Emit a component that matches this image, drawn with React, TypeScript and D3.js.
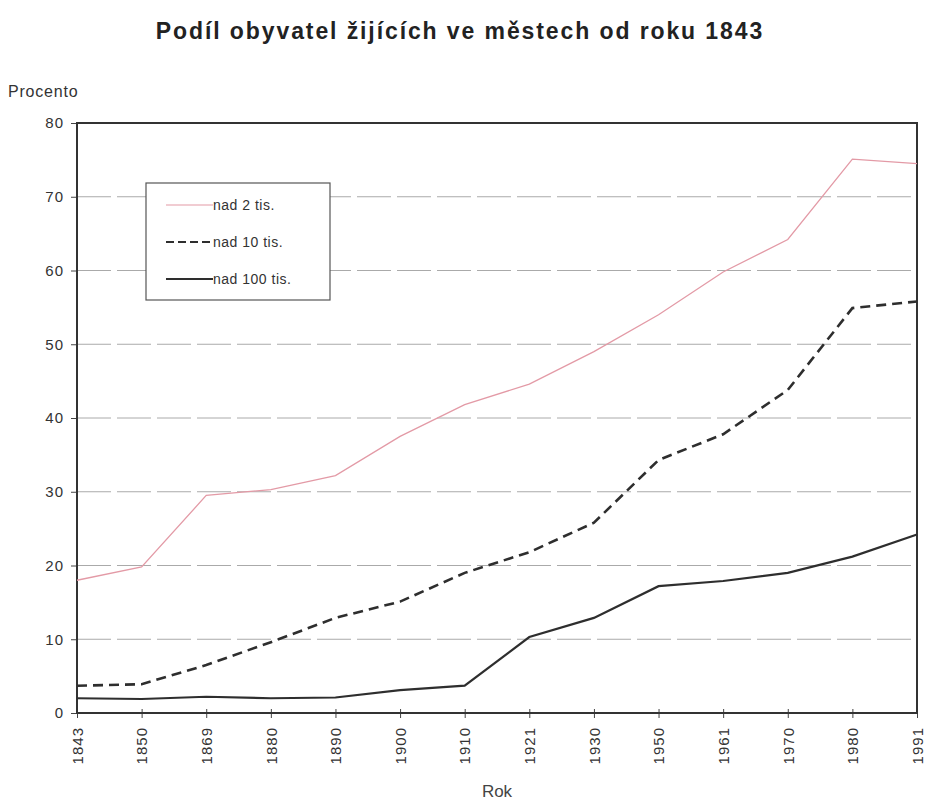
import { useEffect, useRef } from 'react';
import * as d3 from 'd3';

const years = ['1843', '1850', '1869', '1880', '1890', '1900', '1910', '1921', '1930', '1950', '1961', '1970', '1980', '1991'];
const over2k = [18.0, 19.8, 29.5, 30.3, 32.2, 37.5, 41.8, 44.6, 49.0, 54.0, 59.8, 64.2, 75.1, 74.5];
const over10k = [3.7, 3.9, 6.5, 9.6, 12.9, 15.1, 19.0, 21.8, 25.8, 34.3, 37.8, 43.8, 54.9, 55.8];
const over100k = [2.0, 1.9, 2.2, 2.0, 2.1, 3.1, 3.7, 10.3, 12.9, 17.2, 17.9, 19.0, 21.2, 24.2];
const yTicks = [0, 10, 20, 30, 40, 50, 60, 70, 80];

const seriesNames = ['nad 2 tis.', 'nad 10 tis.', 'nad 100 tis.'];

const App = () => {
  const ref = useRef<SVGSVGElement>(null);

  useEffect(() => {
    const width = 925;
    const height = 802;
    const margin = { top: 123, right: 8, bottom: 89, left: 77 };
    const font = '"Liberation Sans", Arial, sans-serif';

    const svg = d3.select(ref.current);
    svg.selectAll('*').remove();

    const x = d3.scalePoint<string>()
      .domain(years)
      .range([margin.left, width - margin.right]);

    const y = d3.scaleLinear()
      .domain([0, 80])
      .range([height - margin.bottom, margin.top]);

    // title
    svg.append('text')
      .attr('x', 460)
      .attr('y', 39)
      .attr('text-anchor', 'middle')
      .style('font-family', font)
      .style('font-weight', 'bold')
      .style('font-size', '23px')
      .style('letter-spacing', '1.9px')
      .attr('fill', '#222')
      .text('Podíl obyvatel žijících ve městech od roku 1843');

    svg.append('text')
      .attr('x', 8)
      .attr('y', 97)
      .style('font-family', font)
      .style('font-size', '16px')
      .style('letter-spacing', '0.8px')
      .attr('fill', '#333')
      .text('Procento');

    // grid lines
    svg.append('g')
      .selectAll('line')
      .data(yTicks.filter(d => d > 0 && d < 80))
      .enter().append('line')
      .attr('x1', margin.left)
      .attr('x2', width - margin.right)
      .attr('y1', d => y(d))
      .attr('y2', d => y(d))
      .attr('stroke', '#aaaaaa')
      .attr('stroke-width', 1)
      .attr('stroke-dasharray', '34,6');

    // y axis
    const yAxis = svg.append('g')
      .attr('transform', `translate(${margin.left},0)`)
      .call(d3.axisLeft(y).tickValues(yTicks).tickSize(6).tickPadding(7));
    yAxis.select('.domain').remove();
    yAxis.selectAll('line').attr('stroke', '#444');
    yAxis.selectAll('text')
      .style('font-family', font)
      .style('font-size', '15px')
      .style('letter-spacing', '1px')
      .attr('fill', '#333');

    // x axis
    const xAxis = svg.append('g')
      .attr('transform', `translate(0,${y(0)})`)
      .call(d3.axisBottom(x).tickSizeInner(5).tickSizeOuter(0).tickPadding(6));
    xAxis.select('.domain').remove();
    xAxis.selectAll('line').attr('stroke', '#444').attr('y1', -4);
    xAxis.selectAll('text')
      .style('font-family', font)
      .style('font-size', '15px')
      .style('letter-spacing', '1px')
      .attr('fill', '#333')
      .attr('text-anchor', 'end')
      .attr('transform', 'rotate(-90)')
      .attr('x', -14)
      .attr('y', 0)
      .attr('dy', '0.35em');

    svg.append('text')
      .attr('x', 497)
      .attr('y', 797)
      .attr('text-anchor', 'middle')
      .style('font-family', font)
      .style('font-size', '17px')
      .attr('fill', '#444')
      .text('Rok');

    // plot frame
    svg.append('rect')
      .attr('x', margin.left)
      .attr('y', margin.top)
      .attr('width', width - margin.right - margin.left)
      .attr('height', y(0) - margin.top)
      .attr('fill', 'none')
      .attr('stroke', '#333')
      .attr('stroke-width', 2);

    const line = d3.line<number>()
      .x((_, i) => x(years[i]) as number)
      .y(d => y(d));

    const styles = [
      { data: over2k, color: '#e39aa6', width: 1.3, dash: null },
      { data: over10k, color: '#2e2e2e', width: 2.6, dash: '10,6' },
      { data: over100k, color: '#2e2e2e', width: 2.2, dash: null },
    ];

    styles.forEach(s => {
      svg.append('path')
        .datum(s.data)
        .attr('fill', 'none')
        .attr('stroke', s.color)
        .attr('stroke-width', s.width)
        .attr('stroke-dasharray', s.dash)
        .attr('d', line);
    });

    // legend
    const legend = svg.append('g').attr('transform', 'translate(146,183)');
    legend.append('rect')
      .attr('width', 184)
      .attr('height', 117)
      .attr('fill', '#fff')
      .attr('stroke', '#555')
      .attr('stroke-width', 1.2);

    seriesNames.forEach((name, i) => {
      const ly = 22 + i * 37;
      legend.append('line')
        .attr('x1', 20)
        .attr('x2', 67)
        .attr('y1', ly)
        .attr('y2', ly)
        .attr('stroke', styles[i].color)
        .attr('stroke-width', i === 0 ? 1.2 : 2)
        .attr('stroke-dasharray', i === 1 ? '8,4' : null);
      legend.append('text')
        .attr('x', 67)
        .attr('y', ly)
        .attr('dy', '0.35em')
        .style('font-family', font)
        .style('font-size', '14px')
        .style('letter-spacing', '0.5px')
        .attr('fill', '#333')
        .text(name);
    });
  }, []);

  return (
    <svg
      ref={ref}
      width={925}
      height={802}
      style={{ position: 'absolute', left: 0, top: 0, background: '#fff' }}
    />
  );
};

export default App;
